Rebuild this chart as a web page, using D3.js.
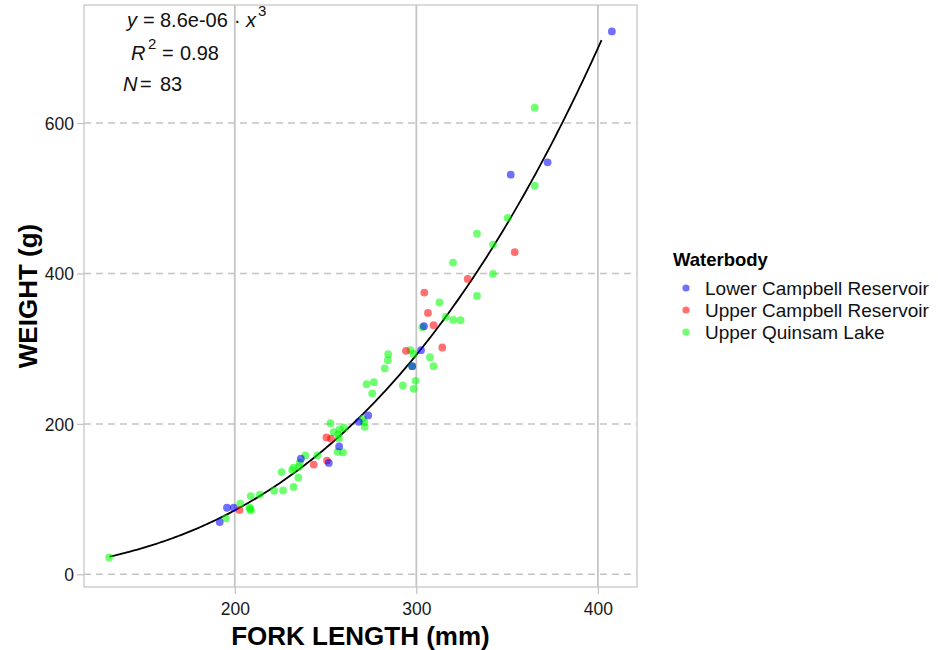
<!DOCTYPE html>
<html>
<head>
<meta charset="utf-8">
<script src="https://cdn.jsdelivr.net/npm/d3@7/dist/d3.min.js"></script>
<style>
  html, body { margin: 0; padding: 0; background: #ffffff; }
  svg { display: block; font-family: "Liberation Sans", Arial, Helvetica, sans-serif; }
</style>
</head>
<body>
<svg id="chart" width="938" height="650"></svg>
<script>
// Fork length (mm) and weight (g) by waterbody
const lowerLength = [191.7, 195.7, 199.4, 236.4, 251.8, 257.5, 268.3, 273.5, 297.7, 302.6, 304.2, 352.0, 372.3, 407.7];
const lowerWeight = [69.5, 88.5, 88.5, 153.8, 148.1, 170.1, 202.7, 211.2, 276.7, 298.0, 329.9, 531.4, 547.8, 721.8];

const upperLength = [202.6, 243.5, 250.8, 250.5, 253.0, 294.3, 304.4, 306.4, 309.5, 314.3, 328.3, 354.2];
const upperWeight = [85.4, 145.9, 151.2, 182.0, 180.4, 297.1, 374.6, 347.5, 331.2, 301.6, 392.7, 428.2];

const quinsamLength = [130.8, 195.1, 203.0, 208.2, 208.9, 208.8, 213.8, 221.7, 226.6, 232.4,
  225.8, 231.6, 232.4, 235.0, 235.8, 238.9, 245.5, 252.7, 254.5, 257.7,
  260.2, 257.4, 256.6, 259.6, 270.5, 271.6, 272.6, 276.6, 275.7, 282.6,
  284.3, 284.5, 296.8, 298.3, 297.7, 292.6, 299.6, 298.5, 307.5, 309.5,
  303.3, 312.7, 316.3, 320.4, 324.4, 320.2, 333.4, 342.2, 342.2, 333.4,
  350.3, 365.2, 365.2, 271.4, 257.0, 235.4, 208.5];
const quinsamWeight = [22.5, 74.4, 93.8, 88.7, 85.0, 104.0, 106.0, 111.1, 111.6, 116.2,
  135.9, 138.6, 141.9, 128.6, 148.5, 158.1, 158.2, 201.0, 189.1, 192.6,
  195.0, 180.7, 162.9, 162.1, 206.7, 196.1, 252.8, 255.5, 240.5, 273.7,
  284.7, 292.7, 298.0, 293.3, 276.7, 251.1, 257.2, 246.6, 288.7, 276.7,
  328.6, 361.4, 342.2, 338.2, 337.8, 414.5, 453.0, 438.4, 399.4, 370.1,
  473.8, 516.8, 620.4, 202.2, 186.0, 143.0, 87.0];

const waterbodies = ["Lower Campbell Reservoir", "Upper Campbell Reservoir", "Upper Quinsam Lake"];
const waterbodyColors = ["#0000ff", "#ff0000", "#00ff00"];

// Power-law fit W = a * L^b
const fitA = 8.6e-6;
const fitB = 3.04;
const fitR2 = 0.98;
const fitLengthRange = [131, 402];

// Axis limits before the 5% padding
const lengthLimits = [130.8, 407.7];
const weightLimits = [18.3, 721.8];

const xTicks = [200, 300, 400];
const yTicks = [0, 200, 400, 600];

// One row per fish; Quinsam drawn first, then Upper and Lower Campbell
const groups = [
  { name: waterbodies[2], color: waterbodyColors[2], L: quinsamLength, W: quinsamWeight },
  { name: waterbodies[1], color: waterbodyColors[1], L: upperLength, W: upperWeight },
  { name: waterbodies[0], color: waterbodyColors[0], L: lowerLength, W: lowerWeight }
];
const fish = groups.flatMap(g => g.L.map((l, i) => ({ length: l, weight: g.W[i], color: g.color })));

const svg = d3.select("#chart");
const panel = { left: 84, right: 637, top: 5, bottom: 587 };

function expand(ext, f) {
  const pad = (ext[1] - ext[0]) * f;
  return [ext[0] - pad, ext[1] + pad];
}
const x = d3.scaleLinear().domain(expand(lengthLimits, 0.05)).range([panel.left, panel.right]);
const y = d3.scaleLinear().domain(expand(weightLimits, 0.05)).range([panel.bottom, panel.top]);

const gridColor = "#c4c4c4";

// Horizontal dashed grid
svg.append("g").selectAll("line").data(yTicks).join("line")
  .attr("x1", panel.left).attr("x2", panel.right)
  .attr("y1", d => y(d)).attr("y2", d => y(d))
  .attr("stroke", gridColor).attr("stroke-width", 1.5)
  .attr("stroke-dasharray", "7,5");

// Vertical solid grid
svg.append("g").selectAll("line").data(xTicks).join("line")
  .attr("x1", d => x(d)).attr("x2", d => x(d))
  .attr("y1", panel.top).attr("y2", panel.bottom)
  .attr("stroke", gridColor).attr("stroke-width", 1.8);

// Panel border
svg.append("rect")
  .attr("x", panel.left).attr("y", panel.top)
  .attr("width", panel.right - panel.left).attr("height", panel.bottom - panel.top)
  .attr("fill", "none").attr("stroke", "#c8c8c8").attr("stroke-width", 1.3);

// Axes
const xAxis = svg.append("g")
  .attr("transform", `translate(0,${panel.bottom})`)
  .call(d3.axisBottom(x).tickValues(xTicks).tickSize(7).tickPadding(5).tickSizeOuter(0));
const yAxis = svg.append("g")
  .attr("transform", `translate(${panel.left},0)`)
  .call(d3.axisLeft(y).tickValues(yTicks).tickSize(7).tickPadding(3).tickSizeOuter(0));
[xAxis, yAxis].forEach(ax => {
  ax.select(".domain").remove();
  ax.selectAll(".tick line").attr("stroke", "#c4c4c4").attr("stroke-width", 1.3);
  ax.selectAll(".tick text").attr("fill", "#1a1a1a").style("font-size", "17.5px")
    .style("font-family", "'Liberation Sans', Arial, sans-serif");
});
xAxis.selectAll(".tick text").attr("dy", "0.9em");
yAxis.selectAll(".tick text").attr("dy", "0.36em");

// Fitted curve
const curveData = d3.range(0, 201).map(i => {
  const l = fitLengthRange[0] + (fitLengthRange[1] - fitLengthRange[0]) * i / 200;
  return [l, fitA * Math.pow(l, fitB)];
});
svg.append("path")
  .datum(curveData)
  .attr("d", d3.line().x(d => x(d[0])).y(d => y(d[1])))
  .attr("fill", "none").attr("stroke", "#000").attr("stroke-width", 1.8);

// Points
svg.append("g").selectAll("circle").data(fish).join("circle")
  .attr("cx", d => x(d.length)).attr("cy", d => y(d.weight))
  .attr("r", 3.9)
  .attr("fill", d => d.color).attr("fill-opacity", 0.56);

// Axis titles
svg.append("text")
  .attr("x", (panel.left + panel.right) / 2).attr("y", 645)
  .attr("text-anchor", "middle")
  .style("font-size", "26px").style("font-weight", "bold").attr("fill", "#000")
  .text("FORK LENGTH (mm)");
svg.append("text")
  .attr("transform", `translate(37,${(panel.top + panel.bottom) / 2}) rotate(-90)`)
  .attr("text-anchor", "middle")
  .style("font-size", "26px").style("font-weight", "bold").attr("fill", "#000")
  .text("WEIGHT (g)");

// Equation annotation
const ann = svg.append("g").style("font-size", "20px").attr("fill", "#111");
const line1 = ann.append("text").attr("y", 27);
line1.append("tspan").attr("x", 127).style("font-style", "italic").text("y");
line1.append("tspan").attr("x", 143).text("=");
line1.append("tspan").attr("x", 160).text(d3.format(".1e")(fitA).replace("e-6", "e-06"));
line1.append("tspan").attr("x", 234).text("·");
line1.append("tspan").attr("x", 246).style("font-style", "italic").text("x");
line1.append("tspan").attr("x", 258).attr("dy", -11).style("font-size", "15px").text("3");

const line2 = ann.append("text").attr("y", 60);
line2.append("tspan").attr("x", 131).style("font-style", "italic").text("R");
line2.append("tspan").attr("x", 148).attr("dy", -11).style("font-size", "15px").text("2");
line2.append("tspan").attr("x", 162).attr("dy", 11).text("=");
line2.append("tspan").attr("x", 180).text(fitR2.toFixed(2));

const line3 = ann.append("text").attr("y", 91);
line3.append("tspan").attr("x", 123).style("font-style", "italic").text("N");
line3.append("tspan").attr("x", 140).text("=");
line3.append("tspan").attr("x", 160).text(fish.length);

// Legend
const legend = svg.append("g");
legend.append("text").attr("x", 673).attr("y", 266)
  .style("font-size", "18.5px").style("font-weight", "bold").attr("fill", "#000")
  .text("Waterbody");
const items = legend.selectAll("g.item").data(waterbodies).join("g").attr("class", "item");
items.append("circle")
  .attr("cx", 686).attr("cy", (d, i) => 288 + i * 22)
  .attr("r", 3.6)
  .attr("fill", (d, i) => waterbodyColors[i]).attr("fill-opacity", 0.56);
items.append("text")
  .attr("x", 705).attr("y", (d, i) => 295 + i * 22)
  .style("font-size", "19px").attr("fill", "#111")
  .text(d => d);
</script>
</body>
</html>
